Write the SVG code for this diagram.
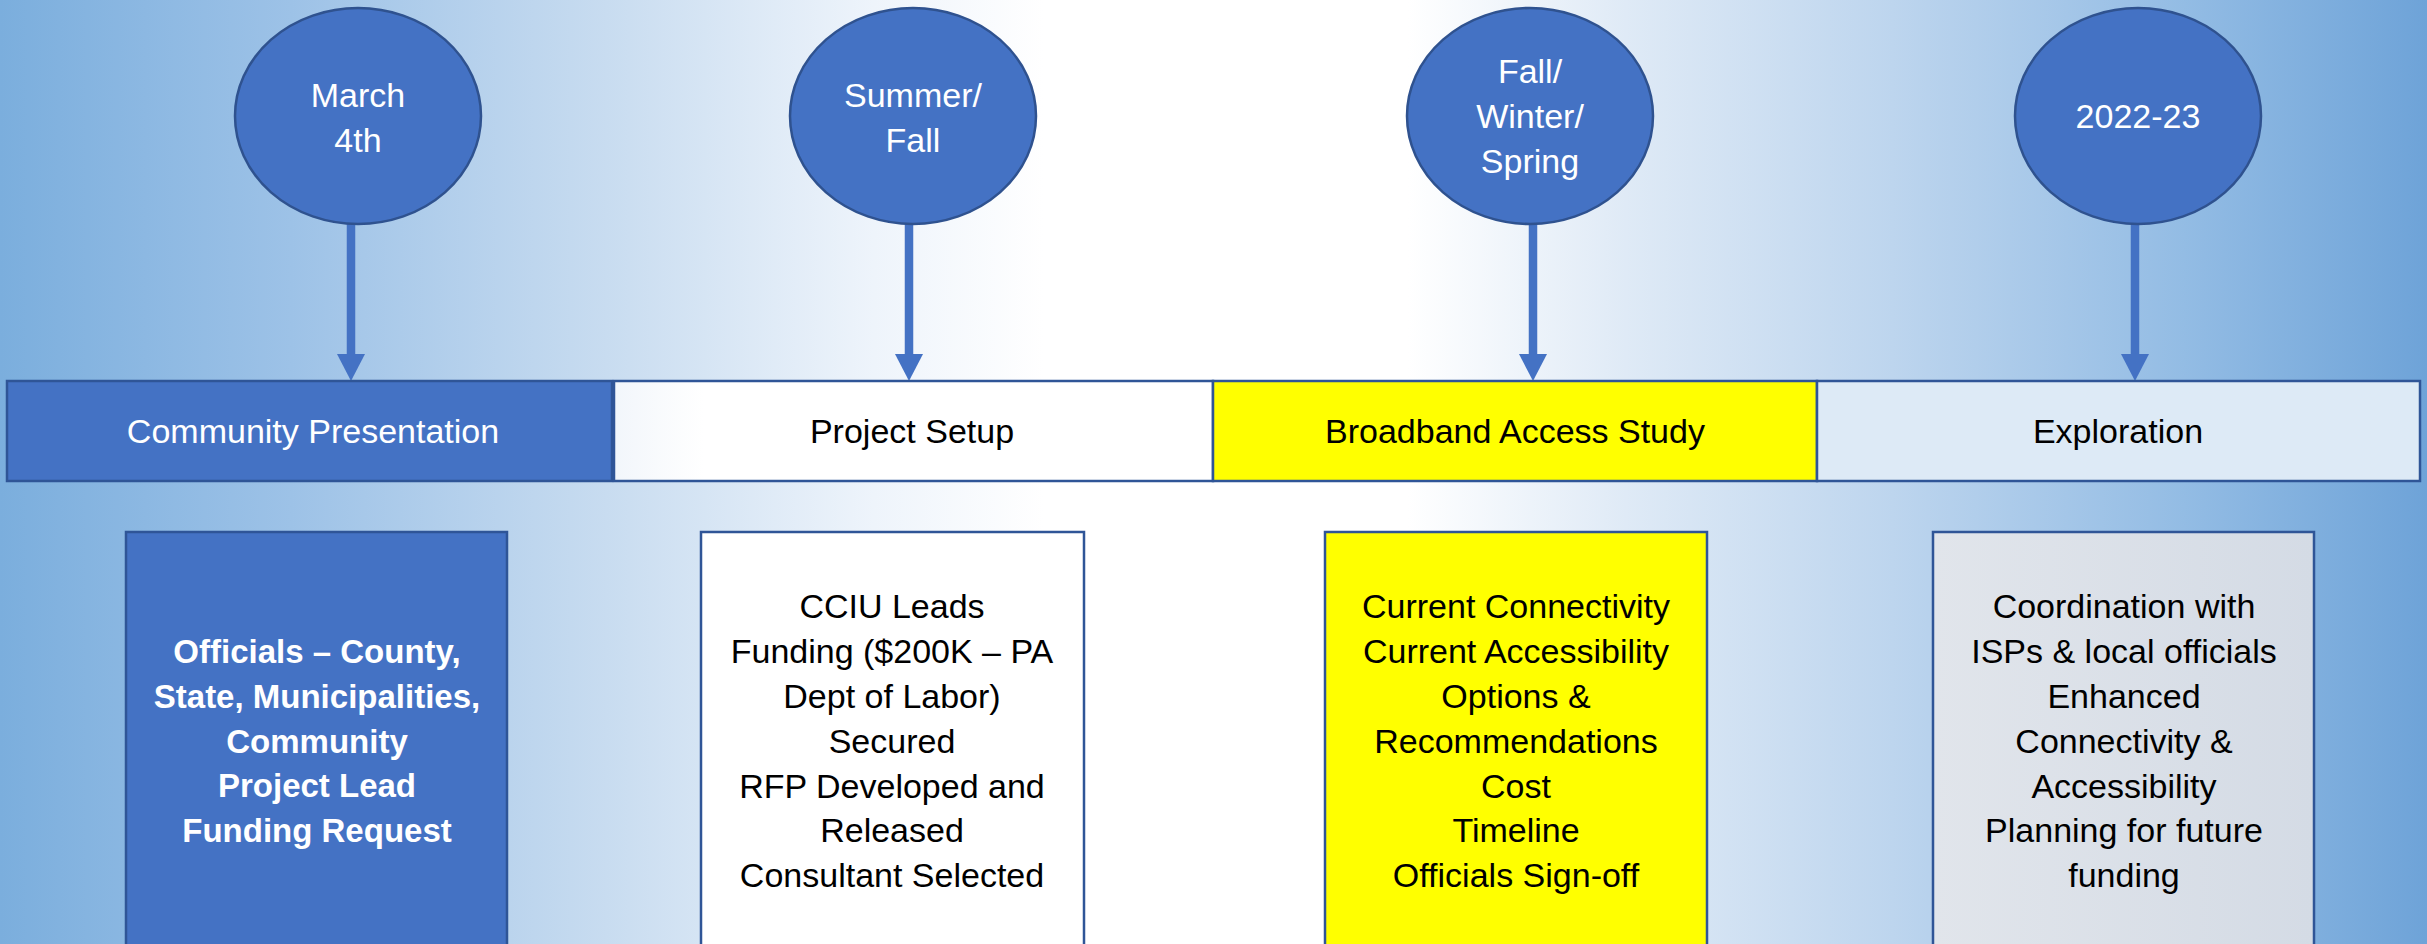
<svg xmlns="http://www.w3.org/2000/svg" width="2427" height="944" viewBox="0 0 2427 944">
  <defs>
    <linearGradient id="bg" x1="0" y1="0" x2="1" y2="0">
      <stop offset="0" stop-color="#7BAEDD"/>
      <stop offset="0.12" stop-color="#9DC2E7"/>
      <stop offset="0.25" stop-color="#C8DCF0"/>
      <stop offset="0.36" stop-color="#EEF4FB"/>
      <stop offset="0.43" stop-color="#FFFFFF"/>
      <stop offset="0.58" stop-color="#FFFFFF"/>
      <stop offset="0.67" stop-color="#DFEAF6"/>
      <stop offset="0.78" stop-color="#BDD5EE"/>
      <stop offset="0.9" stop-color="#93BCE4"/>
      <stop offset="1" stop-color="#6EA3D8"/>
    </linearGradient>
    <linearGradient id="grey" x1="0" y1="0" x2="1" y2="0">
      <stop offset="0" stop-color="#E1E5EB"/>
      <stop offset="1" stop-color="#D4DBE5"/>
    </linearGradient>
    <linearGradient id="seg2" x1="0" y1="0" x2="1" y2="0">
      <stop offset="0" stop-color="#F2F6FB"/>
      <stop offset="0.15" stop-color="#FFFFFF"/>
      <stop offset="1" stop-color="#FFFFFF"/>
    </linearGradient>
    <style>
      .ell { fill: #4472C4; stroke: #2F528F; stroke-width: 2.5; }
      .seg { stroke: #2F5597; stroke-width: 2.5; }
      .box { stroke: #2F5597; stroke-width: 2.5; }
      .stem { stroke: #4472C4; stroke-width: 8.5; fill: none; }
      .head { fill: #4472C4; }
      text { font-family: "Liberation Sans", Arial, sans-serif; font-size: 34px; text-anchor: middle; }
      .w { fill: #FFFFFF; }
      .k { fill: #000000; }
      .b { font-weight: bold; font-size: 33px; }
    </style>
  </defs>

  <rect x="0" y="0" width="2427" height="944" fill="url(#bg)"/>

  <g id="connectors">
    <line class="stem" x1="351" y1="224" x2="351" y2="356"/>
    <polygon class="head" points="337,354 365,354 351,381"/>
    <line class="stem" x1="909" y1="224" x2="909" y2="356"/>
    <polygon class="head" points="895,354 923,354 909,381"/>
    <line class="stem" x1="1533" y1="224" x2="1533" y2="356"/>
    <polygon class="head" points="1519,354 1547,354 1533,381"/>
    <line class="stem" x1="2135" y1="224" x2="2135" y2="356"/>
    <polygon class="head" points="2121,354 2149,354 2135,381"/>
  </g>

  <g id="date-march">
    <ellipse class="ell" cx="358" cy="116" rx="123" ry="108"/>
    <text class="w" x="358" y="107">March</text>
    <text class="w" x="358" y="152">4th</text>
  </g>
  <g id="date-summer">
    <ellipse class="ell" cx="913" cy="116" rx="123" ry="108"/>
    <text class="w" x="913" y="107">Summer/</text>
    <text class="w" x="913" y="152">Fall</text>
  </g>
  <g id="date-fall">
    <ellipse class="ell" cx="1530" cy="116" rx="123" ry="108"/>
    <text class="w" x="1530" y="83">Fall/</text>
    <text class="w" x="1530" y="128">Winter/</text>
    <text class="w" x="1530" y="173">Spring</text>
  </g>
  <g id="date-2022">
    <ellipse class="ell" cx="2138" cy="116" rx="123" ry="108"/>
    <text class="w" x="2138" y="128">2022-23</text>
  </g>

  <g id="phase-community">
    <rect class="seg" x="7" y="381" width="605" height="100" fill="#4472C4"/>
    <text class="w" x="313" y="443">Community Presentation</text>
  </g>
  <g id="phase-setup">
    <rect class="seg" x="614" y="381" width="599" height="100" fill="url(#seg2)"/>
    <text class="k" x="912" y="443">Project Setup</text>
  </g>
  <g id="phase-study">
    <rect class="seg" x="1213" y="381" width="604" height="100" fill="#FFFF00"/>
    <text class="k" x="1515" y="443">Broadband Access Study</text>
  </g>
  <g id="phase-exploration">
    <rect class="seg" x="1817" y="381" width="603" height="100" fill="#DDEAF6"/>
    <text class="k" x="2118" y="443">Exploration</text>
  </g>

  <g id="detail-community">
    <rect class="box" x="126" y="532" width="381" height="440" fill="#4472C4"/>
    <text class="w b" x="317" y="663">Officials – County,</text>
    <text class="w b" x="317" y="708">State, Municipalities,</text>
    <text class="w b" x="317" y="753">Community</text>
    <text class="w b" x="317" y="797">Project Lead</text>
    <text class="w b" x="317" y="842">Funding Request</text>
  </g>
  <g id="detail-setup">
    <rect class="box" x="701" y="532" width="383" height="440" fill="#FFFFFF"/>
    <text class="k" x="892" y="618">CCIU Leads</text>
    <text class="k" x="892" y="663">Funding ($200K – PA</text>
    <text class="k" x="892" y="708">Dept of Labor)</text>
    <text class="k" x="892" y="753">Secured</text>
    <text class="k" x="892" y="798">RFP Developed and</text>
    <text class="k" x="892" y="842">Released</text>
    <text class="k" x="892" y="887">Consultant Selected</text>
  </g>
  <g id="detail-study">
    <rect class="box" x="1325" y="532" width="382" height="440" fill="#FFFF00"/>
    <text class="k" x="1516" y="618">Current Connectivity</text>
    <text class="k" x="1516" y="663">Current Accessibility</text>
    <text class="k" x="1516" y="708">Options &amp;</text>
    <text class="k" x="1516" y="753">Recommendations</text>
    <text class="k" x="1516" y="798">Cost</text>
    <text class="k" x="1516" y="842">Timeline</text>
    <text class="k" x="1516" y="887">Officials Sign-off</text>
  </g>
  <g id="detail-exploration">
    <rect class="box" x="1933" y="532" width="381" height="440" fill="url(#grey)"/>
    <text class="k" x="2124" y="618">Coordination with</text>
    <text class="k" x="2124" y="663">ISPs &amp; local officials</text>
    <text class="k" x="2124" y="708">Enhanced</text>
    <text class="k" x="2124" y="753">Connectivity &amp;</text>
    <text class="k" x="2124" y="798">Accessibility</text>
    <text class="k" x="2124" y="842">Planning for future</text>
    <text class="k" x="2124" y="887">funding</text>
  </g>
</svg>
